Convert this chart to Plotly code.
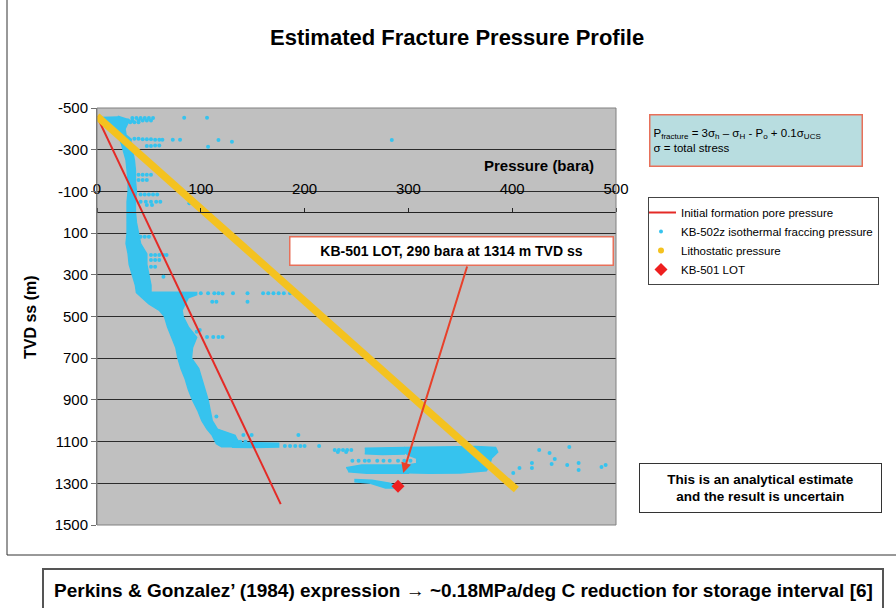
import plotly.graph_objects as go

# ---------------- data ----------------
# Initial formation pore pressure (bara) vs TVD ss (m)
PORE_P = [0, 177]
PORE_D = [-460, 1400]

# Lithostatic pressure
LITHO_P = [0, 404]
LITHO_D = [-460, 1330]

# KB-501 LOT
LOT_P = [290]
LOT_D = [1314]

# KB-502z isothermal fraccing pressure - outline of the dense main band
BAND_P = [4, 6, 12, 16, 19, 22, 24, 25, 28, 29, 30, 30, 29, 29, 29, 29, 28, 30, 31, 34, 37, 38, 40, 43,
          50, 60, 65, 68, 72, 76, 78, 81, 85, 88, 92, 97, 101, 106, 111, 113, 115, 120,
          135, 138, 135, 133, 116, 111, 109, 107, 104, 101, 98, 91, 92, 96, 88, 83, 82, 85, 88, 96, 96,
          52, 52, 50, 48, 48, 42, 40, 38, 37, 37, 38, 37, 37, 36, 34, 32, 33, 28, 27, 30, 30, 20]
BAND_D = [-458, -445, -430, -400, -370, -350, -320, -300, -250, -200, -150, -100, -50, 0, 50, 100, 150, 200,
          250, 300, 350, 385, 395, 410, 440, 470, 500, 550, 600, 650, 700, 750, 800, 850, 900, 950, 1000,
          1040, 1070, 1090, 1110, 1125,
          1125, 1110, 1090, 1070, 1040, 1000, 950, 900, 850, 800, 750, 700, 650, 600, 550, 500, 470, 440,
          410, 395, 385, 382, 350, 300, 250, 200, 150, 100, 50, 0, -50, -100, -150, -200, -250, -300,
          -320, -350, -370, -400, -430, -445, -460]

# horizontal streak at ~1115 m
STREAK_P = [130, 150, 175, 175, 150, 130]
STREAK_D = [1110, 1106, 1108, 1126, 1128, 1127]

# bottom cluster (1120-1330 m)
BLOB_P = [296, 330, 365, 384, 386, 380, 378, 375, 350, 320, 300, 300, 308, 308, 300, 296]
BLOB_D = [1128, 1125, 1124, 1128, 1150, 1180, 1215, 1240, 1250, 1252, 1250, 1212, 1205, 1180, 1165, 1150]
ROW1_P = [258, 280, 296, 296, 275, 258]
ROW1_D = [1132, 1128, 1128, 1160, 1162, 1158]
ROW3_P = [240, 255, 300, 300, 260, 242]
ROW3_D = [1225, 1212, 1212, 1252, 1252, 1245]
TAIL_P = [248, 265, 282, 290, 278, 262, 248]
TAIL_D = [1282, 1285, 1300, 1322, 1322, 1298, 1292]

# scattered individual readings
DOTS_P = [34, 38, 42, 46, 50, 54, 84, 106,
          30, 34, 40, 44, 48, 52,
          32, 36, 40,
          36, 40, 44, 48, 52, 56, 60, 63, 73, 80, 117, 130, 107, 284,
          48, 52, 56, 60,
          40, 44, 48, 52,
          40, 44, 48,
          42, 46, 50, 54, 58,
          42, 47, 52, 57, 61,
          48, 53, 89,
          42, 46, 50,
          52, 56, 60, 64, 67,
          52, 56, 60,
          52, 56, 64,
          100, 107, 113, 117, 121, 131, 145, 160, 165, 170, 175, 180, 186, 111, 115, 145,
          96, 99, 106, 112, 117, 121,
          115, 141, 149, 138, 143,
          181, 186, 191, 196, 200, 214, 194,
          229, 233, 237, 241, 245, 232, 240,
          246, 252, 258, 262, 270, 276, 282, 290, 296, 302,
          401, 407, 419, 419, 426, 436, 438, 441, 453, 455, 464, 464, 486, 490]
DOTS_D = [-452, -452, -452, -452, -452, -452, -453, -453,
          -440, -440, -440, -440, -440, -440,
          -432, -432, -432,
          -352, -352, -350, -350, -350, -348, -348, -348, -348, -348, -347, -338, -314, -347,
          -318, -318, -320, -320,
          -180, -180, -180, -180,
          -155, -155, -155,
          -85, -85, -85, -85, -85,
          -50, -50, -50, -50, -50,
          -35, -35, -43,
          117, 117, 117,
          205, 205, 205, 205, 205,
          229, 229, 229,
          261, 261, 309,
          388, 388, 388, 388, 390, 388, 388, 388, 388, 388, 388, 388, 388, 429, 429, 429,
          573, 565, 598, 598, 598, 598,
          980, 1068, 1068, 1101, 1101,
          1121, 1121, 1121, 1121, 1121, 1121, 1068,
          1140, 1140, 1140, 1140, 1140, 1150, 1150,
          1192, 1192, 1192, 1192, 1192, 1192, 1192, 1192, 1192, 1192,
          1251, 1227, 1203, 1227, 1140, 1155, 1207, 1183, 1212, 1126, 1203, 1236, 1222, 1212]

X_TICKS = [0, 100, 200, 300, 400, 500]
Y_TICKS = [-500, -300, -100, 100, 300, 500, 700, 900, 1100, 1300, 1500]
Y_TICK_LABELS = ["-500", "-300", "-100", "100", "300", "500", "700", "900", "1100", "1300", "1500"]

SERIES_NAMES = ["Initial formation pore pressure", "KB-502z isothermal fraccing pressure",
                "Lithostatic pressure", "KB-501 LOT"]

# ---------------- styling / layout ----------------
W, H = 896, 608
PL, PR, PT, PB = 97, 616, 108, 525
X_MIN, X_MAX = 0, 500
Y_MIN, Y_MAX = -500, 1500

FONT = "Liberation Sans, Arial, sans-serif"
BLUE = "#36c3ee"
RED = "#e42a26"
YELLOW = "#f4c21f"
GRID = "#2b2b2b"


def px(xp):
    return (xp - PL) / (PR - PL)


def py(yp):
    return (PB - yp) / (PB - PT)


fig = go.Figure()

for pp, dd in [(BAND_P, BAND_D), (STREAK_P, STREAK_D), (BLOB_P, BLOB_D), (ROW1_P, ROW1_D),
               (ROW3_P, ROW3_D), (TAIL_P, TAIL_D)]:
    fig.add_trace(go.Scatter(x=pp, y=dd, mode="lines", fill="toself", fillcolor=BLUE,
                             line=dict(color=BLUE, width=1.5), showlegend=False, hoverinfo="skip"))

fig.add_trace(go.Scatter(x=DOTS_P, y=DOTS_D, mode="markers", name=SERIES_NAMES[1],
                         marker=dict(color=BLUE, size=4), legendrank=2))

fig.add_trace(go.Scatter(x=PORE_P, y=PORE_D, mode="lines", name=SERIES_NAMES[0],
                         line=dict(color=RED, width=2), legendrank=1))

fig.add_trace(go.Scatter(x=LITHO_P, y=LITHO_D, mode="lines", showlegend=False,
                         line=dict(color=YELLOW, width=7.5), hoverinfo="skip"))
fig.add_trace(go.Scatter(x=[None], y=[None], mode="markers", name=SERIES_NAMES[2],
                         marker=dict(color=YELLOW, size=6), legendrank=3))

fig.add_trace(go.Scatter(x=LOT_P, y=LOT_D, mode="markers", name=SERIES_NAMES[3],
                         marker=dict(color="#ee1f1f", size=10, symbol="diamond"), legendrank=4))

x_axis_pos = (Y_MAX - 0) / (Y_MAX - Y_MIN)

fig.update_layout(
    width=W, height=H, autosize=False,
    margin=dict(l=PL, r=W - PR, t=PT, b=H - PB, pad=0),
    paper_bgcolor="white", plot_bgcolor="#c0c0c0",
    font=dict(family=FONT, color="black"),
    xaxis=dict(range=[X_MIN, X_MAX], tickvals=X_TICKS, anchor="free", position=x_axis_pos,
               side="top", showgrid=False, zeroline=False, showline=True, linecolor="#222",
               linewidth=1, ticks="outside", ticklen=4, tickcolor="#222",
               tickfont=dict(size=15, family=FONT), ticklabelstandoff=8),
    yaxis=dict(range=[Y_MAX, Y_MIN], tickvals=Y_TICKS, ticktext=Y_TICK_LABELS, showgrid=True,
               gridcolor=GRID, gridwidth=1, zeroline=False, showline=True, linecolor="#707070",
               linewidth=1, ticks="outside", ticklen=5, tickcolor="#707070",
               tickfont=dict(size=15, family=FONT)),
    legend=dict(x=px(648), y=py(197), xanchor="left", yanchor="top", bgcolor="white",
                bordercolor="#444", borderwidth=1, font=dict(size=11.5, family=FONT),
                tracegroupgap=0, indentation=-8),
    showlegend=True,
)

C = dict(xref="paper", yref="paper", showarrow=False, xanchor="center", yanchor="middle")
ann = []
ann.append(dict(text="<b>Estimated Fracture Pressure Profile</b>", x=px(457), y=py(38),
                font=dict(size=22), **C))
ann.append(dict(text="<b>TVD ss (m)</b>", x=px(30), y=py(317), textangle=-90,
                font=dict(size=16), **C))
ann.append(dict(text="<b>Pressure (bara)</b>", x=px(539), y=py(165),
                font=dict(size=15), **C))
ann.append(dict(text="P<sub>fracture</sub> = 3σ<sub>h</sub> – σ<sub>H</sub> - P<sub>o</sub> + 0.1σ<sub>UCS</sub>"
                     "<br>σ = total stress",
                x=px(755.5), y=py(140), width=205, height=44, align="left", bgcolor="#b8dde0",
                bordercolor="#e8705a", borderwidth=1.5, borderpad=3, font=dict(size=11.5), **C))
ann.append(dict(text="<b>KB-501 LOT, 290 bara at 1314 m TVD ss</b>", x=px(451), y=py(250.5),
                width=318, height=23, bgcolor="white", bordercolor="#e8705a", borderwidth=1.5,
                borderpad=2, font=dict(size=14), **C))
ann.append(dict(text="<b>This is an analytical estimate<br>and the result is uncertain</b>",
                x=px(760.5), y=py(488), width=237, height=44, bgcolor="white", bordercolor="#333",
                borderwidth=1, borderpad=2, font=dict(size=13.5), **C))
ann.append(dict(text="<b>Perkins & Gonzalez’ (1984) expression → ~0.18MPa/deg C reduction for storage interval [6]</b>",
                x=px(463), y=py(590),
                font=dict(size=19, family="Liberation Sans Narrow, Arial Narrow, Liberation Sans"), **C))
# arrow from the LOT label to the LOT point
ann.append(dict(text="", x=295, y=1250, ax=357, ay=253, xref="x", yref="y", axref="x", ayref="y",
                showarrow=True, arrowhead=2, arrowsize=1, arrowwidth=2, arrowcolor="#e8402a"))
fig.update_layout(annotations=ann)

shapes = []
# plot frame
shapes.append(dict(type="rect", xref="paper", yref="paper", x0=0, x1=1, y0=0, y1=1,
                   line=dict(color="#808080", width=1), layer="above"))
# outer chart frame (left and bottom)
shapes.append(dict(type="line", xref="paper", yref="paper", x0=px(7), x1=px(7), y0=py(0), y1=py(555),
                   line=dict(color="#333", width=1)))
shapes.append(dict(type="line", xref="paper", yref="paper", x0=px(7), x1=px(900), y0=py(555), y1=py(555),
                   line=dict(color="#333", width=1)))
# bottom box
shapes.append(dict(type="rect", xref="paper", yref="paper", x0=px(43), x1=px(883), y0=py(620), y1=py(569),
                   line=dict(color="#555", width=2)))
fig.update_layout(shapes=shapes)

fig.write_html("out.html")
